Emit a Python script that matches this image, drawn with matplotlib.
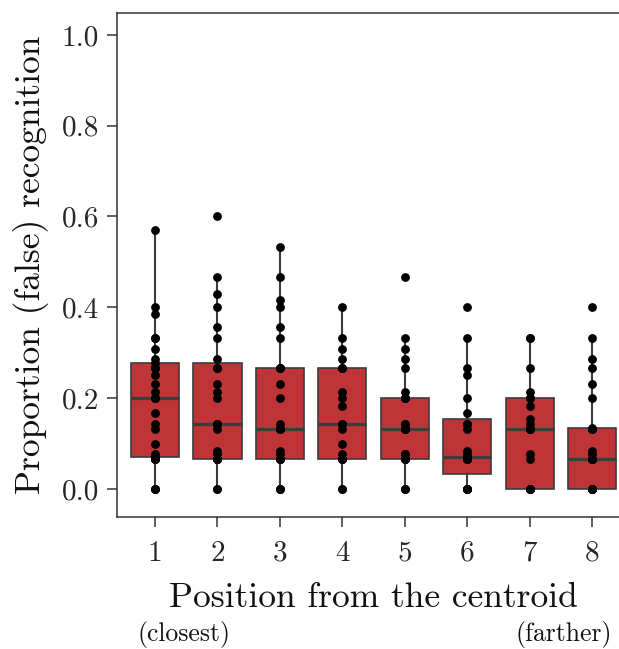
import numpy as np
import matplotlib
matplotlib.use("Agg")
import matplotlib.pyplot as plt

plt.rcParams['font.family'] = 'cmr10'
plt.rcParams['mathtext.fontset'] = 'cm'
plt.rcParams['axes.unicode_minus'] = False
plt.rcParams['axes.formatter.use_mathtext'] = True

# proportion of false recognitions per participant, by position
positions = [1, 2, 3, 4, 5, 6, 7, 8]

pos_1 = [0, 0, 0, 0.067, 0.067, 0.067, 0.067, 0.071, 0.077, 0.1, 0.133, 0.143, 0.167,
         0.2, 0.2, 0.2, 0.214, 0.231, 0.25, 0.267, 0.267, 0.278, 0.286, 0.308, 0.333,
         0.333, 0.385, 0.4, 0.571]
pos_2 = [0, 0, 0.067, 0.067, 0.067, 0.067, 0.067, 0.067, 0.077, 0.083, 0.133, 0.143,
         0.143, 0.143, 0.2, 0.214, 0.231, 0.267, 0.267, 0.267, 0.286, 0.333, 0.357, 0.4,
         0.429, 0.467, 0.6]
pos_3 = [0, 0, 0, 0.067, 0.067, 0.067, 0.067, 0.077, 0.083, 0.133, 0.133, 0.133, 0.133,
         0.143, 0.2, 0.231, 0.267, 0.267, 0.267, 0.333, 0.357, 0.4, 0.417, 0.467, 0.533]
pos_4 = [0, 0, 0.067, 0.067, 0.067, 0.067, 0.077, 0.1, 0.133, 0.143, 0.143, 0.182, 0.2,
         0.214, 0.267, 0.267, 0.267, 0.286, 0.308, 0.333, 0.4]
pos_5 = [0, 0, 0, 0.067, 0.067, 0.067, 0.067, 0.077, 0.077, 0.133, 0.133, 0.133, 0.133,
         0.143, 0.143, 0.2, 0.2, 0.2, 0.2, 0.214, 0.267, 0.286, 0.308, 0.333, 0.467]
pos_6 = [0, 0, 0, 0, 0, 0, 0.067, 0.067, 0.067, 0.067, 0.071, 0.071, 0.077, 0.083, 0.133,
         0.143, 0.143, 0.167, 0.2, 0.25, 0.267, 0.333, 0.4]
pos_7 = [0, 0, 0, 0, 0, 0, 0.067, 0.077, 0.133, 0.133, 0.133, 0.143, 0.154, 0.182, 0.2,
         0.2, 0.2, 0.214, 0.267, 0.333, 0.333]
pos_8 = [0, 0, 0, 0, 0, 0, 0, 0.067, 0.067, 0.067, 0.067, 0.067, 0.067, 0.077, 0.083,
         0.133, 0.133, 0.133, 0.134, 0.2, 0.231, 0.267, 0.286, 0.333, 0.4]

data = [pos_1, pos_2, pos_3, pos_4, pos_5, pos_6, pos_7, pos_8]

box_color = '#be3437'
edge_color = '#3c3c3c'

fig = plt.figure(figsize=(6.19, 6.49), dpi=100)
ax = fig.add_axes([0.189, 0.2039, 0.8288, 0.776])

ax.boxplot(data, positions=positions, widths=0.77, patch_artist=True,
           showfliers=False, whis=1.5,
           boxprops=dict(facecolor=box_color, edgecolor=edge_color, linewidth=1.2),
           medianprops=dict(color=edge_color, linewidth=2.3),
           whiskerprops=dict(color=edge_color, linewidth=1.5),
           capprops=dict(linewidth=0))

for p, vals in zip(positions, data):
    ax.scatter(np.full(len(vals), p), vals, s=40, color='black', zorder=3, linewidths=0)

ax.set_xlim(0.39, 8.61)
ax.set_ylim(-0.061, 1.048)
ax.set_xticks(positions)
ax.set_yticks([0.0, 0.2, 0.4, 0.6, 0.8, 1.0])
ax.set_yticklabels(['0.0', '0.2', '0.4', '0.6', '0.8', '1.0'])

for s in ax.spines.values():
    s.set_color('#333333')
    s.set_linewidth(1.1)
ax.tick_params(direction='out', length=7, width=1.1, color='#333333',
               labelsize=21, labelcolor='#262626')
ax.tick_params(axis='x', pad=10)
ax.tick_params(axis='y', pad=6)

ax.set_ylabel('Proportion (false) recognition', fontsize=25.5, color='#111111', labelpad=9)
ax.set_xlabel('Position from the centroid', fontsize=25.5, color='#111111', labelpad=11)

fig.text(138 / 619, 1 - 635 / 649, '(closest)', fontsize=18.5, ha='left', va='center', color='#111111')
fig.text(612 / 619, 1 - 635 / 649, '(farther)', fontsize=18.5, ha='right', va='center', color='#111111')

fig.savefig('out.png', dpi=100)
